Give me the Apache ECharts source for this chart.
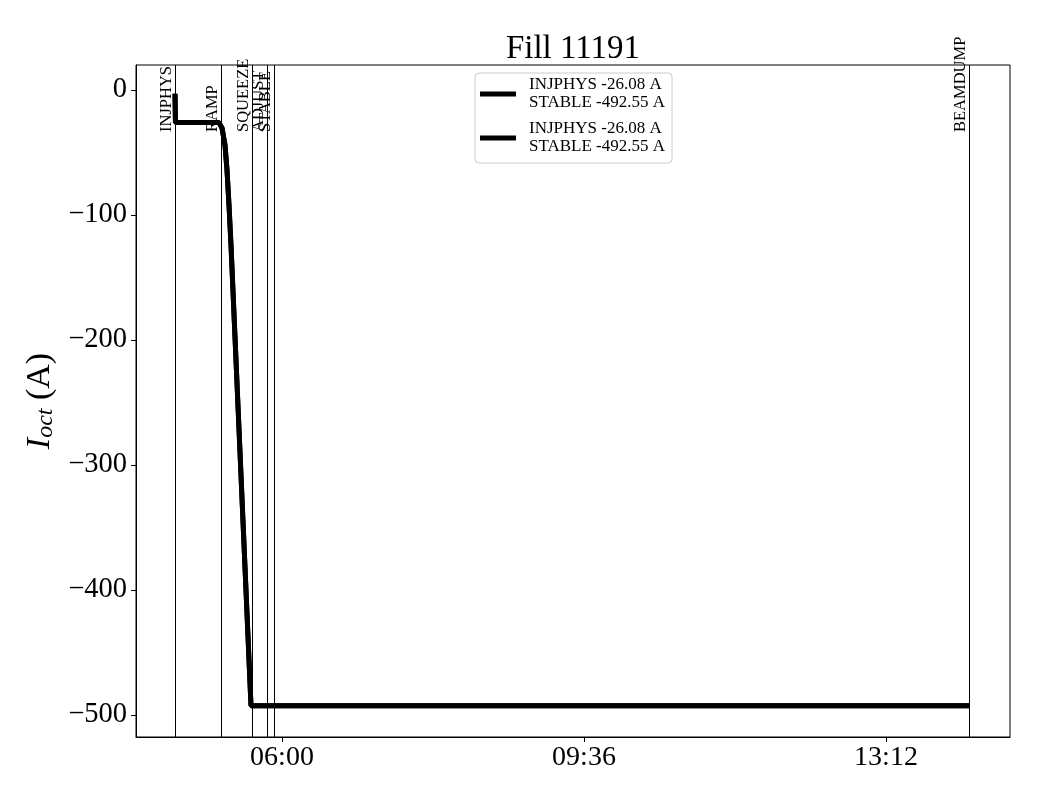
<!DOCTYPE html>
<html>
<head>
<meta charset="utf-8">
<script src="https://cdn.jsdelivr.net/npm/echarts@6/dist/echarts.min.js"></script>
<style>html,body{margin:0;padding:0;background:#fff}#c{width:1040px;height:800px}</style>
</head>
<body>
<div id="c"></div>
<script>
// time in hours of day
var times = [4.7247, 4.7300, 5.2491, 5.2849, 5.3206, 5.3445, 5.3683, 5.3921, 5.5113, 5.6305, 14.2002];
var currents = [-3, -26.08, -26.08, -30.4, -44, -64, -92, -124, -308, -492.55, -492.55];
var eventNames = ['INJPHYS', 'RAMP', 'SQUEEZE', 'ADJUST', 'STABLE', 'BEAMDUMP'];
var eventTimes = [4.7307, 5.2789, 5.6484, 5.8272, 5.9106, 14.1947];
var xTicks = [6.0, 9.6, 13.2];
var yTicks = [0, -100, -200, -300, -400, -500];
var legendNames = ['INJPHYS -26.08 A\nSTABLE -492.55 A', 'INJPHYS -26.08 A\nSTABLE -492.55 A\u200b'];

var FONT = '"Liberation Serif", "DejaVu Serif", serif';
var lineData = times.map(function (t, i) { return [t, currents[i]]; });
var labelY = -33.6;

function fmtTime(h) {
  var m = Math.round(h * 60);
  var hh = Math.floor(m / 60), mm = m % 60;
  return (hh < 10 ? '0' : '') + hh + ':' + (mm < 10 ? '0' : '') + mm;
}

var chart = echarts.init(document.getElementById('c'), null, {renderer: 'canvas'});
chart.setOption({
  animation: false,
  backgroundColor: '#fff',
  title: {
    text: 'Fill 11191', left: 568, top: 28, textAlign: 'center',
    textStyle: {fontFamily: FONT, fontSize: 33, fontWeight: 'normal', color: '#000'}
  },
  grid: {left: 136, right: 30, top: 65, bottom: 63, show: true, borderColor: '#000', borderWidth: 1, backgroundColor: 'transparent'},
  legend: {
    data: legendNames,
    orient: 'vertical', left: 475, top: 73,
    padding: [3, 7, 7, 5], itemGap: 8, itemWidth: 36, itemHeight: 5,
    icon: 'rect',
    borderColor: '#cccccc', borderWidth: 1, borderRadius: 4,
    formatter: function (n) { return n.replace('\u200b', ''); },
    textStyle: {fontFamily: FONT, fontSize: 17, color: '#000', lineHeight: 18, padding: [0, 0, 0, 8]}
  },
  xAxis: {
    type: 'value', min: 4.2598, max: 14.678,
    axisLine: {show: true, onZero: false, lineStyle: {color: '#000', width: 1}},
    axisTick: {show: true, length: 5, lineStyle: {color: '#000'}, customValues: xTicks},
    axisLabel: {show: true, customValues: xTicks, formatter: fmtTime, margin: 7,
      fontFamily: FONT, fontSize: 28, color: '#000'},
    splitLine: {show: false}
  },
  yAxis: {
    type: 'value', min: -517.6, max: 20,
    name: '{it|I}{sub|oct}{n| (A)}',
    nameLocation: 'middle', nameGap: 75, nameRotate: 90,
    nameTextStyle: {
      fontFamily: FONT, color: '#000',
      rich: {
        it: {fontFamily: FONT, fontSize: 34, fontStyle: 'italic', color: '#000', verticalAlign: 'bottom', lineHeight: 38},
        sub: {fontFamily: FONT, fontSize: 24, fontStyle: 'italic', color: '#000', verticalAlign: 'bottom', lineHeight: 30},
        n: {fontFamily: FONT, fontSize: 34, color: '#000', verticalAlign: 'bottom', lineHeight: 38}
      }
    },
    axisLine: {show: true, onZero: false, lineStyle: {color: '#000', width: 1}},
    axisTick: {show: true, length: 5, lineStyle: {color: '#000'}, customValues: yTicks},
    axisLabel: {show: true, customValues: yTicks, margin: 9,
      formatter: function (v) { return v < 0 ? '\u2212' + Math.abs(v) : String(v); },
      fontFamily: FONT, fontSize: 28.5, color: '#000'},
    splitLine: {show: false}
  },
  series: [
    {
      name: legendNames[0], type: 'line', data: lineData, symbol: 'none',
      lineStyle: {color: '#000', width: 5}, itemStyle: {color: '#000'}, z: 5,
      markLine: {
        silent: true, symbol: 'none', animation: false,
        label: {show: false},
        lineStyle: {color: '#000', width: 1, type: 'solid'},
        data: eventTimes.map(function (t) { return {xAxis: t}; })
      }
    },
    {
      name: legendNames[1], type: 'line', data: lineData, symbol: 'none',
      lineStyle: {color: '#000', width: 5}, itemStyle: {color: '#000'}, z: 5
    },
    {
      type: 'scatter', symbolSize: 0, silent: true, z: 6,
      data: eventTimes.map(function (t, i) { return {value: [t, labelY], name: eventNames[i]}; }),
      label: {
        show: true, position: 'inside', rotate: 90, align: 'left', verticalAlign: 'bottom',
        formatter: function (p) { return p.name; },
        fontFamily: FONT, fontSize: 16.5, color: '#000',
        textBorderWidth: 0, textBorderColor: 'transparent', opacity: 1
      }
    }
  ]
});
</script>
</body>
</html>
